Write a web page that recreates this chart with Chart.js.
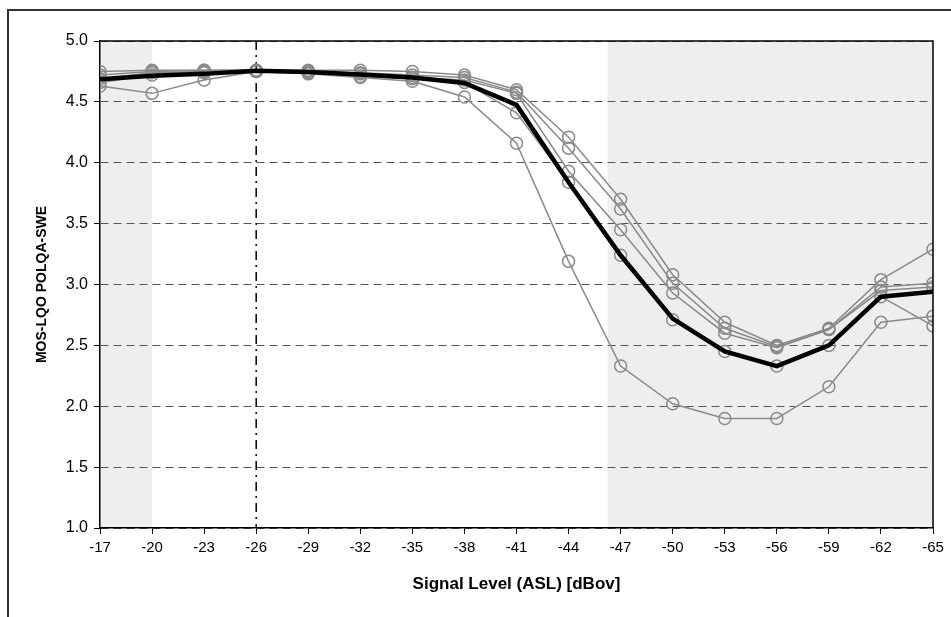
<!DOCTYPE html>
<html>
<head>
<meta charset="utf-8">
<script src="https://cdn.jsdelivr.net/npm/chart.js@4"></script>
<style>
    html, body { margin: 0; padding: 0; background: #fff; }
    #wrap { position: relative; width: 951px; height: 617px; }
</style>
</head>
<body>
<div id="wrap"><canvas id="chart"></canvas></div>
<script>
// Signal levels (x axis categories), dBov
const levels = [-17, -20, -23, -26, -29, -32, -35, -38, -41, -44, -47, -50, -53, -56, -59, -62, -65];
const yTicks = [1.0, 1.5, 2.0, 2.5, 3.0, 3.5, 4.0, 4.5, 5.0];

// Individual conditions (grey, open circles)
const cond1 = [4.75, 4.76, 4.76, 4.76, 4.76, 4.76, 4.75, 4.72, 4.60, 4.21, 3.70, 3.08, 2.69, 2.50, 2.64, 3.04, 3.29];
const cond2 = [4.72, 4.75, 4.76, 4.76, 4.75, 4.74, 4.72, 4.70, 4.58, 4.12, 3.62, 3.01, 2.64, 2.49, 2.63, 2.98, 3.01];
const cond3 = [4.69, 4.74, 4.75, 4.75, 4.75, 4.73, 4.70, 4.68, 4.57, 3.93, 3.45, 2.93, 2.60, 2.48, 2.63, 2.95, 2.98];
const cond4 = [4.66, 4.72, 4.74, 4.75, 4.74, 4.71, 4.69, 4.66, 4.41, 3.84, 3.24, 2.71, 2.45, 2.33, 2.50, 2.90, 2.66];
const cond5 = [4.63, 4.57, 4.68, 4.75, 4.73, 4.70, 4.67, 4.54, 4.16, 3.19, 2.33, 2.02, 1.90, 1.90, 2.16, 2.69, 2.74];

// Average (thick black line)
const average = [4.685, 4.715, 4.73, 4.755, 4.745, 4.725, 4.70, 4.655, 4.475, 3.84, 3.24, 2.72, 2.45, 2.33, 2.50, 2.90, 2.94];

// Shaded level ranges and the nominal level marker
const shadedRanges = [[-17, -20], [-46.25, -65]];
const nominalLevel = -26;

const FONT = "'Liberation Sans', Arial, sans-serif";

function toPoints(values) {
    return levels.map((lvl, i) => ({ x: lvl, y: values[i] }));
}

function greySeries(label, values) {
    return {
        label,
        data: toPoints(values),
        borderColor: '#8a8a8a',
        borderWidth: 1.5,
        pointRadius: 6,
        pointBorderWidth: 1.5,
        pointBorderColor: '#8a8a8a',
        pointBackgroundColor: 'rgba(0,0,0,0)',
        tension: 0
    };
}

const decorations = {
    id: 'decorations',
    beforeDraw(chart) {
        const { ctx, chartArea: a, scales: { x } } = chart;
        ctx.save();
        ctx.fillStyle = '#eeeeee';
        shadedRanges.forEach(([from, to]) => {
            const x1 = x.getPixelForValue(from);
            const x2 = x.getPixelForValue(to);
            ctx.fillRect(Math.min(x1, x2), a.top, Math.abs(x2 - x1), a.bottom - a.top);
        });
        ctx.restore();
    },
    beforeDatasetsDraw(chart) {
        // dash-dot marker at the nominal level
        const { ctx, chartArea: a, scales: { x } } = chart;
        const px = x.getPixelForValue(nominalLevel);
        ctx.save();
        ctx.strokeStyle = '#000';
        ctx.lineWidth = 1.5;
        ctx.setLineDash([9, 5, 2, 5]);
        ctx.beginPath();
        ctx.moveTo(px, a.top);
        ctx.lineTo(px, a.bottom);
        ctx.stroke();
        ctx.restore();
    },
    afterDraw(chart) {
        const { ctx, chartArea: a, width } = chart;
        ctx.save();
        ctx.strokeStyle = '#000';
        ctx.lineWidth = 1.5;
        // plot area frame: top and right
        ctx.beginPath();
        ctx.moveTo(a.left, a.top);
        ctx.lineTo(a.right, a.top);
        ctx.lineTo(a.right, a.bottom);
        ctx.stroke();
        // outer chart frame
        ctx.strokeStyle = '#333';
        ctx.lineWidth = 2;
        ctx.beginPath();
        ctx.moveTo(8, chart.height);
        ctx.lineTo(8, 10);
        ctx.lineTo(width, 10);
        ctx.stroke();
        ctx.restore();
    }
};

new Chart(document.getElementById('chart'), {
    type: 'line',
    data: {
        datasets: [
            {
                label: 'Average',
                data: toPoints(average),
                borderColor: '#000',
                borderWidth: 4.5,
                pointRadius: 0,
                tension: 0
            },
            greySeries('Condition 1', cond1),
            greySeries('Condition 2', cond2),
            greySeries('Condition 3', cond3),
            greySeries('Condition 4', cond4),
            greySeries('Condition 5', cond5)
        ]
    },
    options: {
        responsive: true,
        maintainAspectRatio: false,
        animation: false,
        layout: { padding: { top: 41, right: 18, left: 0, bottom: 0 } },
        plugins: {
            legend: { display: false },
            tooltip: { enabled: false }
        },
        scales: {
            x: {
                type: 'linear',
                reverse: true,
                min: -65,
                max: -17,
                afterBuildTicks: axis => { axis.ticks = levels.map(v => ({ value: v })); },
                afterFit: axis => { axis.height = 89; },
                border: { color: '#000', width: 1.5 },
                grid: {
                    drawOnChartArea: false,
                    drawTicks: true,
                    tickLength: 6,
                    tickColor: '#000'
                },
                ticks: {
                    color: '#000',
                    padding: 5,
                    maxRotation: 0,
                    autoSkip: false,
                    font: { family: FONT, size: 15 },
                    callback: v => String(v)
                },
                title: {
                    display: true,
                    text: 'Signal Level (ASL) [dBov]',
                    color: '#000',
                    font: { family: FONT, size: 17, weight: 'bold' },
                    padding: { top: 0, bottom: 22 }
                }
            },
            y: {
                min: 1,
                max: 5,
                afterBuildTicks: axis => { axis.ticks = yTicks.map(v => ({ value: v })); },
                afterFit: axis => { axis.width = 100; },
                border: { color: '#000', width: 1.5, dash: [8, 5] },
                grid: {
                    color: '#555',
                    lineWidth: 1,
                    drawTicks: true,
                    tickLength: 6,
                    tickColor: '#000',
                    tickBorderDash: []
                },
                ticks: {
                    color: '#000',
                    padding: 6,
                    font: { family: FONT, size: 16 },
                    callback: v => v.toFixed(1)
                },
                title: {
                    display: true,
                    text: 'MOS-LQO POLQA-SWE',
                    color: '#000',
                    font: { family: FONT, size: 14, weight: 'bold' },
                    padding: { top: 34, bottom: 0 }
                }
            }
        }
    },
    plugins: [decorations]
});
</script>
</body>
</html>
